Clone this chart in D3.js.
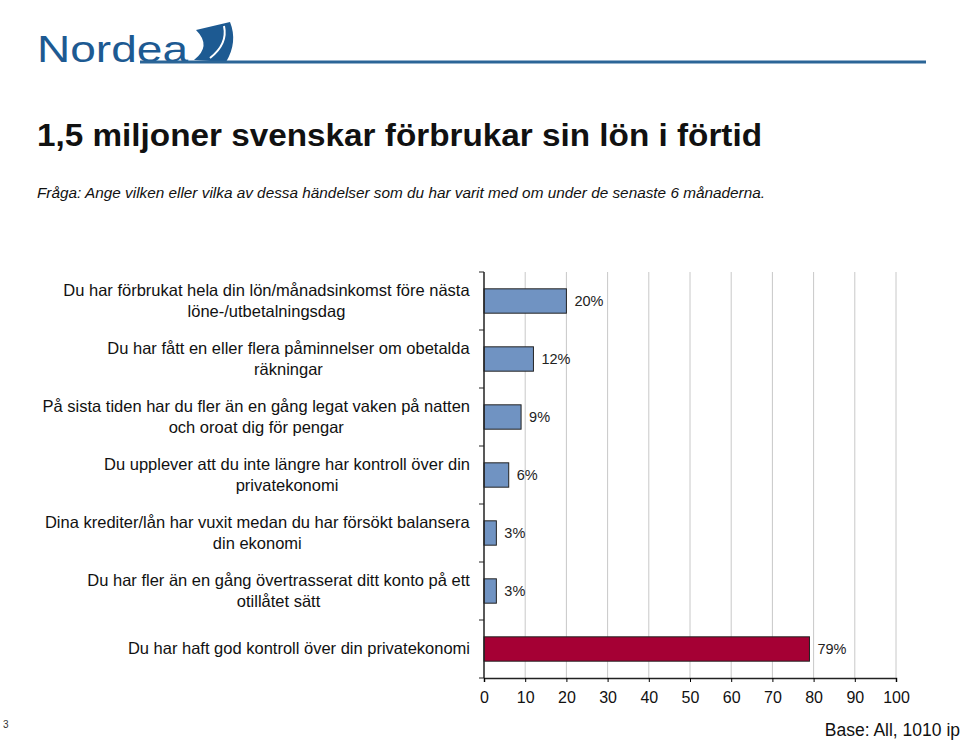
<!DOCTYPE html>
<html><head><meta charset="utf-8">
<script src="https://cdn.jsdelivr.net/npm/d3@7"></script>
<style>body{margin:0;background:#fff}text{font-family:"Liberation Sans",Arial,sans-serif}</style>
</head><body>
<script>
var categories = [
  ["Du har förbrukat hela din lön/månadsinkomst före nästa", "löne-/utbetalningsdag"],
  ["Du har fått en eller flera påminnelser om obetalda", "räkningar"],
  ["På sista tiden har du fler än en gång legat vaken på natten", "och oroat dig för pengar"],
  ["Du upplever att du inte längre har kontroll över din", "privatekonomi"],
  ["Dina krediter/lån har vuxit medan du har försökt balansera", "din ekonomi"],
  ["Du har fler än en gång övertrasserat ditt konto på ett", "otillåtet sätt"],
  ["Du har haft god kontroll över din privatekonomi"]
];
var values = [20, 12, 9, 6, 3, 3, 79];
var highlight = [false, false, false, false, false, false, true];
var xTicks = [0, 10, 20, 30, 40, 50, 60, 70, 80, 90, 100];

var svg = d3.select("body").append("svg").attr("width", 960).attr("height", 754);

// header
var g0 = svg.append("g");
g0.append("text").attr("x", 37).attr("y", 62).attr("font-size", 37)
  .attr("fill", "#1d5a92").attr("textLength", 151).attr("lengthAdjust", "spacingAndGlyphs").text("Nordea");
g0.append("path").attr("d", "M196,30 L230,22 Q238,42 226,62 L194,60 Q212,46 196,30 Z").attr("fill", "#1d5a92");
g0.append("path").attr("d", "M224,26 Q228,44 210,58").attr("stroke", "#fff").attr("stroke-width", 2).attr("fill", "none");
g0.append("line").attr("x1", 140).attr("x2", 926).attr("y1", 62).attr("y2", 62)
  .attr("stroke", "#2b6597").attr("stroke-width", 3);

svg.append("text").attr("x", 37).attr("y", 146).attr("font-size", 32).attr("font-weight", "bold")
  .attr("fill", "#111").attr("textLength", 725).attr("lengthAdjust", "spacingAndGlyphs")
  .text("1,5 miljoner svenskar förbrukar sin lön i förtid");
svg.append("text").attr("x", 37).attr("y", 198).attr("font-size", 15.5).attr("font-style", "italic")
  .attr("fill", "#111").attr("textLength", 728).attr("lengthAdjust", "spacingAndGlyphs")
  .text("Fråga: Ange vilken eller vilka av dessa händelser som du har varit med om under de senaste 6 månaderna.");

var x = d3.scaleLinear().domain([0, 100]).range([484, 896]);
var y = d3.scaleBand().domain(d3.range(values.length)).range([272, 678]).paddingInner(0.58).paddingOuter(0.29);

// grid
svg.append("g").selectAll("line").data(xTicks.slice(1)).enter().append("line")
  .attr("x1", d => x(d)).attr("x2", d => x(d)).attr("y1", 272).attr("y2", 678)
  .attr("stroke", "#c8c8c8").attr("stroke-width", 1);

svg.append("g").selectAll("rect").data(values).enter().append("rect")
  .attr("x", x(0)).attr("y", (d, i) => y(i)).attr("width", d => x(d) - x(0)).attr("height", y.bandwidth())
  .attr("fill", (d, i) => highlight[i] ? "#a50034" : "#7093c2")
  .attr("stroke", "#222").attr("stroke-width", 1);

svg.append("g").selectAll("text").data(values).enter().append("text")
  .attr("x", d => x(d) + 8).attr("y", (d, i) => y(i) + y.bandwidth() / 2 + 5)
  .attr("font-size", 14.5).attr("fill", "#222").text(d => d + "%");

// x axis
var xa = svg.append("g").attr("transform", "translate(0,678)")
  .call(d3.axisBottom(x).tickValues(xTicks).tickSize(4).tickPadding(10));
xa.selectAll("text").attr("font-size", 16).attr("fill", "#111").attr("font-family", "Liberation Sans, Arial, sans-serif");
xa.select(".domain").attr("stroke", "#222").attr("stroke-width", 1.5);

// y axis with ticks at band boundaries
var ya = svg.append("g");
ya.append("line").attr("x1", x(0)).attr("x2", x(0)).attr("y1", 272).attr("y2", 678).attr("stroke", "#222").attr("stroke-width", 1.5);
ya.selectAll(".tk").data(d3.range(values.length + 1)).enter().append("line")
  .attr("x1", x(0) - 5).attr("x2", x(0)).attr("y1", i => 272 + i * 58).attr("y2", i => 272 + i * 58).attr("stroke", "#222");

var lab = svg.append("g").selectAll("text").data(categories).enter().append("text")
  .attr("text-anchor", "middle").attr("font-size", 16.5).attr("fill", "#111")
  .attr("transform", (d, i) => "translate(300," + (y(i) + y.bandwidth() / 2) + ")");
lab.each(function(d) {
  var t = d3.select(this);
  d.forEach((s, k) => {
    t.append("tspan").attr("x", 0).attr("y", (k - (d.length - 1) / 2) * 21 + 5).text(s);
  });
  var bb = this.getBBox();
  t.attr("transform", t.attr("transform").replace("300", 470 - bb.width / 2));
});

svg.append("text").attr("x", 960).attr("y", 736).attr("text-anchor", "end").attr("font-size", 17.5)
  .attr("fill", "#111").text("Base: All, 1010 ip");
svg.append("text").attr("x", 3).attr("y", 728).attr("font-size", 10).attr("fill", "#333")
  .attr("font-family", "Liberation Serif").text("3");
</script>
</body></html>
